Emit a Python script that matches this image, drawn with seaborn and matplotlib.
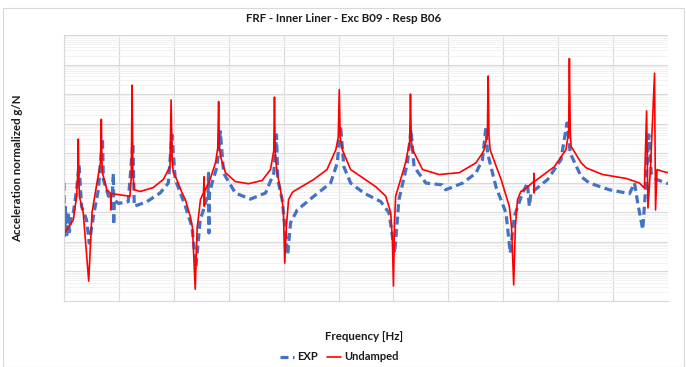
# frf_plot.py
# FRF comparison: measured (EXP) vs undamped model, Exc B09 / Resp B06

import numpy as np
import pandas as pd
import matplotlib
matplotlib.use("Agg")
import matplotlib.pyplot as plt
from matplotlib.ticker import LogLocator, MultipleLocator, NullFormatter
from matplotlib.patches import Rectangle
import seaborn as sns

# -----------------------------
# 1. Data
# -----------------------------
title = "FRF - Inner Liner - Exc B09 - Resp B06"
x_label = "Frequency [Hz]"
y_label = "Acceleration normalized g/N"
series_names = ["EXP", "Undamped"]

exp_freq = [0, 0.9, 2.7, 4.9, 7.3, 10, 11, 13.7, 17, 23, 27.4, 32, 41, 46, 53.5, 62.6,
            70, 71.7, 81, 87.6, 90, 90.5, 91.3, 99, 117, 125.4, 128, 151, 175, 190,
            196.6, 202.6, 221, 233, 240.4, 248, 254, 262, 263.3, 263.9, 264.6, 269.6,
            278.7, 284.7, 290.7, 312, 339.5, 367, 382, 387, 389.3, 397.3, 407.5, 412.5,
            424.7, 455, 485.5, 497.7, 503.7, 509.7, 522, 546, 577, 592, 602.3, 610,
            625.4, 632, 637.5, 659, 689, 695, 726, 750, 762, 768.3, 771.4, 786.6, 805,
            812.7, 820, 835, 844, 847.4, 850.5, 881, 905, 916, 922, 942, 957, 993,
            1030, 1039, 1045, 1054, 1060, 1065, 1069.5, 1078.6, 1100]
exp_acc = [0.10, 1.6e-3, 1.5e-2, 1.5e-3, 1.0e-2, 2.2e-3, 3.3e-3, 8.3e-3, 9.8e-3, 5.8e-2,
           0.41, 1.6e-2, 5.6e-3, 9.1e-4, 7.2e-3, 5.8e-2, 3.2, 0.13, 3.5e-2, 3.4e-2,
           0.21, 3.8e-3, 2.7e-2, 2.0e-2, 2.3e-2, 2.2, 1.6e-2, 2.3e-2, 4.5e-2, 9.8e-2,
           4.2, 0.13, 1.6e-2, 3.3e-3, 1.5e-4, 5.6e-3, 1.2e-2, 3.9e-2, 0.21, 2.0e-3,
           3.9e-2, 9.8e-2, 0.35, 5.4, 0.21, 4.5e-2, 2.8e-2, 4.5e-2, 0.21, 4.2, 0.13,
           2.7e-2, 3.7e-4, 4.4e-3, 1.2e-2, 3.5e-2, 9.8e-2, 0.47, 8.5, 0.35, 9.8e-2,
           4.5e-2, 2.3e-2, 9.5e-3, 4.2e-4, 2.7e-2, 0.47, 6.2, 0.35, 9.8e-2, 8.5e-2,
           5.8e-2, 9.8e-2, 0.21, 0.60, 7.2, 1.0, 7.4e-2, 9.5e-3, 4.2e-4, 7.2e-3,
           4.5e-2, 9.8e-2, 1.6e-2, 4.5e-2, 0.13, 0.60, 10.5, 1.0, 0.16, 9.8e-2,
           5.8e-2, 4.3e-2, 9.8e-2, 2.0e-2, 2.6e-3, 9.8e-2, 4.2, 0.21, 0.13, 9.3e-2]

und_freq = [1.8, 17, 23, 25, 26, 27, 28, 35, 45, 51, 60, 66.5, 68, 69, 70, 78, 85, 85.4,
            86, 120, 122.5, 124, 125.5, 128, 139, 162, 181, 193, 195, 197, 199, 205.3,
            215, 221, 230, 234, 239, 242.5, 245, 248.5, 254, 255.3, 255.6, 256, 266, 276,
            280, 281.6, 283, 285, 294, 312, 336, 361, 376, 382, 383.3, 384.5, 385, 388.2,
            394.2, 397, 399.5, 402, 405, 409, 415.5, 418, 455, 479, 495, 499.5, 501.3,
            503, 507, 522, 558, 567.6, 577, 586, 595, 598, 600, 601.7, 604, 613, 622,
            629.5, 631, 632.5, 635, 653, 683, 720, 750, 762, 765, 771, 772.5, 774, 776,
            796, 811, 815, 819, 822, 826, 832, 838, 855.5, 855.8, 856.2, 856.6, 893, 914,
            919, 920.4, 922, 923.5, 942, 951, 981, 1024, 1048, 1057, 1061, 1063.5, 1068,
            1075.5, 1077.3, 1080, 1091, 1100]
und_acc = [2.1e-3, 5.6e-3, 3.5e-2, 0.2, 3.0, 0.2, 3.5e-2, 9.8e-3, 4.7e-5, 9.8e-3, 0.10,
           0.5, 14, 0.6, 0.22, 5.8e-2, 4.3e-2, 1.2e-2, 4.3e-2, 3.5e-2, 0.15, 200, 0.2,
           5.8e-2, 5.1e-2, 6.8e-2, 0.13, 0.35, 63, 0.6, 0.22, 0.13, 4.6e-2, 2.7e-2,
           7.2e-3, 3.0e-3, 2.5e-5, 3.0e-3, 7.2e-3, 2.7e-2, 4.6e-2, 0.16, 1.6e-2, 5.0e-2,
           0.13, 0.48, 1.5, 56, 1.6, 0.78, 0.22, 0.11, 9.3e-2, 0.12, 0.28, 1.2, 79, 1.8,
           0.78, 0.22, 5.8e-2, 2.7e-2, 1.2e-2, 1.9e-4, 3.3e-3, 2.7e-2, 4.6e-2, 5.1e-2,
           0.13, 0.28, 1.3, 3.5, 140, 3.5, 1.3, 0.28, 9.8e-2, 7.4e-2, 5.1e-2, 3.5e-2,
           9.8e-3, 1.2e-3, 3.2e-5, 3.3e-3, 3.5e-2, 0.13, 0.47, 2.5, 100, 2.5, 1.3, 0.28,
           0.19, 0.22, 0.47, 1.0, 1.3, 4.0, 410, 4.0, 1.3, 0.13, 1.6e-2, 3.3e-3, 3.5e-5,
           3.3e-3, 2.7e-2, 5.1e-2, 5.8e-2, 0.11, 0.21, 4.5e-2, 0.11, 0.35, 1.3, 5.0, 1600,
           5.0, 1.7, 0.47, 0.32, 0.19, 0.14, 9.8e-2, 6.6e-2, 27, 1.4e-2, 0.28, 510,
           1.2e-2, 0.28, 0.24, 0.22]

exp_df = pd.DataFrame({"Frequency": exp_freq, "Acc": exp_acc})
und_df = pd.DataFrame({"Frequency": und_freq, "Acc": und_acc})

# -----------------------------
# 2. Plot
# -----------------------------
sns.set_theme(style="white")
plt.rcParams["font.family"] = ["Lato", "DejaVu Sans"]

fig = plt.figure(figsize=(6.86, 3.67), dpi=100)
ax = fig.add_axes([64/686, 1 - 301/367, 604/686, 266/367])

sns.lineplot(data=exp_df, x="Frequency", y="Acc", ax=ax, color="#4472C4",
             linewidth=2.3, linestyle="--", estimator=None, sort=False, label=series_names[0])
ax.lines[-1].set_dashes([2.5, 1.4])
sns.lineplot(data=und_df, x="Frequency", y="Acc", ax=ax, color="#FF0000",
             linewidth=1.2, estimator=None, sort=False, label=series_names[1])

ax.set_yscale("log")
ax.set_xlim(0, 1100)
ax.set_ylim(1e-5, 1e4)
ax.xaxis.set_major_locator(MultipleLocator(100))
ax.yaxis.set_major_locator(LogLocator(base=10, numticks=20))
ax.yaxis.set_minor_locator(LogLocator(base=10, subs=np.arange(2, 10), numticks=100))
ax.yaxis.set_minor_formatter(NullFormatter())
ax.grid(True, which="major", color="#d9d9d9", linewidth=0.8)
ax.grid(True, which="minor", axis="y", color="#f0f0f0", linewidth=0.6)
ax.tick_params(axis="x", which="both", length=0, labelbottom=False)
ax.tick_params(axis="y", which="both", direction="inout", length=4, color="#d9d9d9",
               width=0.6, labelleft=False)
for side in ["top", "right"]:
    ax.spines[side].set_visible(False)
for side in ["left", "bottom"]:
    ax.spines[side].set_color("#d9d9d9")
    ax.spines[side].set_linewidth(0.8)
ax.set_xlabel("")
ax.set_ylabel("")

text_color = "#1a1a1a"
fig.text(344/686, 1 - 18/367, title, ha="center", va="center", fontsize=8.3,
         fontweight="bold", color=text_color)
fig.text(364/686, 1 - 337/367, x_label, ha="center", va="center", fontsize=8.3,
         fontweight="bold", color=text_color)
fig.text(18/686, 1 - 168/367, y_label, ha="center", va="center", rotation=90,
         fontsize=8.3, fontweight="bold", color=text_color)

leg = ax.legend(loc="center", bbox_to_anchor=(339/686, 1 - 357/367),
                bbox_transform=fig.transFigure, ncol=2, frameon=False,
                fontsize=8, handlelength=1.3, handletextpad=0.25, columnspacing=0.8)
for t in leg.get_texts():
    t.set_fontweight("bold")
    t.set_color(text_color)

# light chart-area border
fig.add_artist(Rectangle((3/686, 0.5/367), 681/686, 359/367, transform=fig.transFigure,
                         fill=False, edgecolor="#d9d9d9", linewidth=0.8))

fig.savefig("out.png", dpi=100, facecolor="white")
